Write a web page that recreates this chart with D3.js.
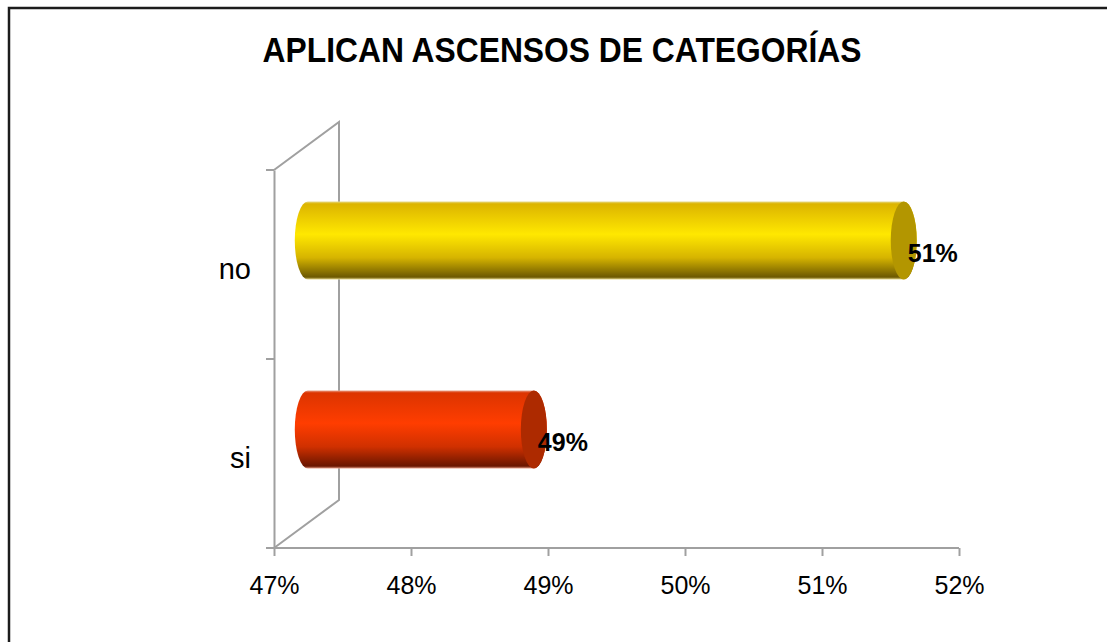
<!DOCTYPE html>
<html>
<head>
<meta charset="utf-8">
<script src="https://cdn.jsdelivr.net/npm/d3@7"></script>
<style>
  html, body { margin: 0; padding: 0; background: #ffffff; }
  svg { display: block; }
  text { font-family: "Liberation Sans", Arial, sans-serif; }
</style>
</head>
<body>
<svg id="chart" width="1107" height="642"></svg>
<script>
// Chart data
const title = "APLICAN ASCENSOS DE CATEGORÍAS";
const categories = ["no", "si"];
const values = [0.5135, 0.4865];
const tickValues = [0.47, 0.48, 0.49, 0.50, 0.51, 0.52];
const barColors = [
  { top: "#dcb400", mid: "#ffe800", low: "#d6b400", bottom: "#6c5800", cap: "#b39600", edge: "#e6d98c" },
  { top: "#dc3400", mid: "#ff3d00", low: "#d03000", bottom: "#6a1600", cap: "#ad2a00", edge: "#e8a08a" }
];

const svg = d3.select("#chart");
const W = 1107, H = 642;

// Outer frame
svg.append("rect")
  .attr("x", 9).attr("y", 8)
  .attr("width", W + 20).attr("height", H + 20)
  .attr("fill", "#ffffff")
  .attr("stroke", "#1c1c1c").attr("stroke-width", 2.5);

// Scales (front plane of the 3D box)
const x = d3.scaleLinear().domain([0.47, 0.52]).range([274, 959]);
const y = d3.scaleBand().domain(categories).range([170, 548]).paddingInner(0).paddingOuter(0);

// Depth of the 3D box
const depthX = 65, depthY = -48;
const barOX = depthX * 0.52, barOY = depthY / 2;
const barH = 78, rx = 13, ry = barH / 2;

const axisColor = "#a0a0a0";

// Back wall / side wall outline
const wall = svg.append("g").attr("fill", "none").attr("stroke", axisColor).attr("stroke-width", 2);
wall.append("path").attr("d", d3.line()([
  [x(0.47), y.range()[0]],
  [x(0.47) + depthX, y.range()[0] + depthY],
  [x(0.47) + depthX, y.range()[1] + depthY],
  [x(0.47), y.range()[1]]
]));

// Category axis (front)
const yAxis = d3.axisLeft(y).tickSize(0).tickFormat("");
const yAxisG = svg.append("g").attr("transform", `translate(${x(0.47)},0)`).call(yAxis);
yAxisG.select(".domain").attr("stroke", axisColor).attr("stroke-width", 2);
// Boundary tick marks between categories
const boundaries = [y.range()[0], ...categories.map(c => y(c) + y.bandwidth())];
svg.append("g").selectAll("line").data(boundaries).join("line")
  .attr("x1", x(0.47) - 8).attr("x2", x(0.47))
  .attr("y1", d => d).attr("y2", d => d)
  .attr("stroke", axisColor).attr("stroke-width", 2);

// Category labels
svg.append("g").selectAll("text").data(categories).join("text")
  .attr("x", 251)
  .attr("y", d => y(d) + y.bandwidth() / 2 + 14)
  .attr("text-anchor", "end")
  .attr("font-size", 29)
  .attr("fill", "#000")
  .text(d => d);

// Value axis (bottom)
const xAxis = d3.axisBottom(x).tickValues(tickValues).tickSize(8).tickFormat(d3.format(".0%"));
const xAxisG = svg.append("g").attr("transform", `translate(0,${y.range()[1]})`).call(xAxis);
xAxisG.select(".domain").attr("stroke", axisColor).attr("stroke-width", 2).attr("d", `M${x(0.47)},0H${x(0.52)}`);
xAxisG.selectAll(".tick line").attr("stroke", axisColor).attr("stroke-width", 2);
xAxisG.selectAll(".tick text")
  .attr("font-size", 25).attr("fill", "#000")
  .attr("font-family", "'Liberation Sans', Arial, sans-serif")
  .attr("dy", 0).attr("y", 46);

// Gradients for cylinder bodies
const defs = svg.append("defs");
barColors.forEach((c, i) => {
  const g = defs.append("linearGradient")
    .attr("id", "grad" + i)
    .attr("x1", 0).attr("y1", 0).attr("x2", 0).attr("y2", 1);
  g.append("stop").attr("offset", "0%").attr("stop-color", c.edge);
  g.append("stop").attr("offset", "3%").attr("stop-color", c.top);
  g.append("stop").attr("offset", "42%").attr("stop-color", c.mid);
  g.append("stop").attr("offset", "72%").attr("stop-color", c.low);
  g.append("stop").attr("offset", "97%").attr("stop-color", c.bottom);
  g.append("stop").attr("offset", "100%").attr("stop-color", c.edge);
});

// Cylinder bars
const bars = svg.append("g").selectAll("g").data(categories).join("g");
bars.each(function(cat, i) {
  const g = d3.select(this);
  const cy = y(cat) + y.bandwidth() / 2 + barOY;
  const x0 = x(0.47) + barOX;
  const x1 = x(values[i]) + barOX;
  const top = cy - ry, bot = cy + ry;
  const body = `M${x0},${top} L${x1},${top} A${rx},${ry} 0 0 1 ${x1},${bot} L${x0},${bot} A${rx},${ry} 0 0 1 ${x0},${top} Z`;
  g.append("path").attr("d", body).attr("fill", `url(#grad${i})`);
  g.append("ellipse")
    .attr("cx", x1).attr("cy", cy).attr("rx", rx).attr("ry", ry)
    .attr("fill", barColors[i].cap);
  g.append("text")
    .attr("x", x1 + 4).attr("y", cy + 21)
    .attr("font-size", 25).attr("font-weight", "bold").attr("fill", "#000")
    .text(d3.format(".0%")(values[i]));
});

// Title (slightly tall letterforms)
svg.append("text")
  .attr("transform", "translate(562,62) scale(1.06,1.16)")
  .attr("text-anchor", "middle")
  .attr("font-size", 30).attr("font-weight", "bold").attr("fill", "#000")
  .text(title);
</script>
</body>
</html>
